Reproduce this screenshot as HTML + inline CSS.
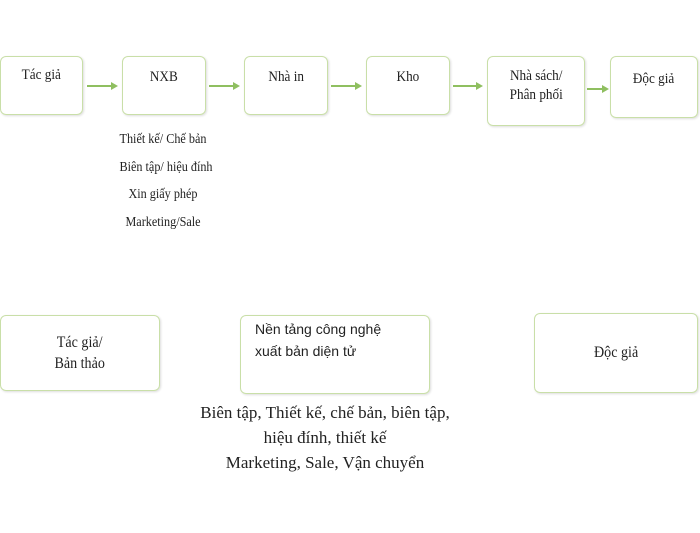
<!DOCTYPE html>
<html><head><meta charset="utf-8"><style>
body{margin:0;width:700px;height:533px;background:#fff;position:relative;overflow:hidden;font-family:"Liberation Serif","DejaVu Serif",serif;color:#222}
.b{position:absolute;border:1.5px solid #c9dfa8;border-radius:6px;box-sizing:border-box;display:flex;align-items:center;justify-content:center;text-align:center;box-shadow:1px 1px 2px #ddd}
.t{position:absolute;text-align:center;white-space:nowrap}
.n{display:inline-block;transform:scaleX(.88)}
</style></head><body>
<div class="b" style="left:0;top:56px;width:83px;height:59px;font-size:15px;align-items:flex-start;padding-top:10px"><span class="n">Tác giả</span></div>
<div class="b" style="left:122px;top:56px;width:84px;height:59px;font-size:15px;align-items:flex-start;padding-top:12px"><span class="n">NXB</span></div>
<div class="b" style="left:244px;top:56px;width:84px;height:59px;font-size:15px;align-items:flex-start;padding-top:12px"><span class="n">Nhà in</span></div>
<div class="b" style="left:366px;top:56px;width:84px;height:59px;font-size:15px;align-items:flex-start;padding-top:12px"><span class="n">Kho</span></div>
<div class="b" style="left:487px;top:56px;width:98px;height:70px;font-size:15px;line-height:19px;align-items:flex-start;padding-top:10px"><span class="n">Nhà sách/<br>Phân phối</span></div>
<div class="b" style="left:610px;top:56px;width:88px;height:62px;font-size:15px;align-items:flex-start;padding-top:14px"><span class="n">Độc giả</span></div>
<svg style="position:absolute;left:0;top:0" width="700" height="533">
<g stroke="#8fbf60" stroke-width="2" fill="#8fbf60">
<line x1="87" y1="86" x2="112" y2="86"/><polygon points="111,82 118,86 111,90" stroke="none"/>
<line x1="209" y1="86" x2="234" y2="86"/><polygon points="233,82 240,86 233,90" stroke="none"/>
<line x1="331" y1="86" x2="356" y2="86"/><polygon points="355,82 362,86 355,90" stroke="none"/>
<line x1="453" y1="86" x2="477" y2="86"/><polygon points="476,82 483,86 476,90" stroke="none"/>
<line x1="587" y1="89" x2="603" y2="89"/><polygon points="602,85 609,89 602,93" stroke="none"/>
</g></svg>
<div class="t" style="left:113px;width:100px;top:126px;font-size:14px;line-height:27.5px;transform:scaleX(.87)">Thiết kế/ Chế bản<br>Biên tập/ hiệu đính<br>Xin giấy phép<br>Marketing/Sale</div>
<div class="b" style="left:0;top:315px;width:160px;height:76px;font-size:16px;line-height:21px"><span class="n">Tác giả/<br>Bản thảo</span></div>
<div class="b" style="left:240px;top:315px;width:190px;height:79px;font-family:'Liberation Sans','DejaVu Sans',sans-serif;font-size:14px;line-height:22px;justify-content:flex-start;align-items:flex-start;text-align:left;padding:2px 0 0 14px">Nền tảng công nghệ<br>xuất bản diện tử</div>
<div class="b" style="left:534px;top:313px;width:164px;height:80px;font-size:16px"><span class="n">Độc giả</span></div>
<div class="t" style="left:175px;width:300px;top:400px;font-size:17px;line-height:25px">Biên tập, Thiết kế, chế bản, biên tập,<br>hiệu đính, thiết kế<br>Marketing, Sale, Vận chuyển</div>
</body></html>
